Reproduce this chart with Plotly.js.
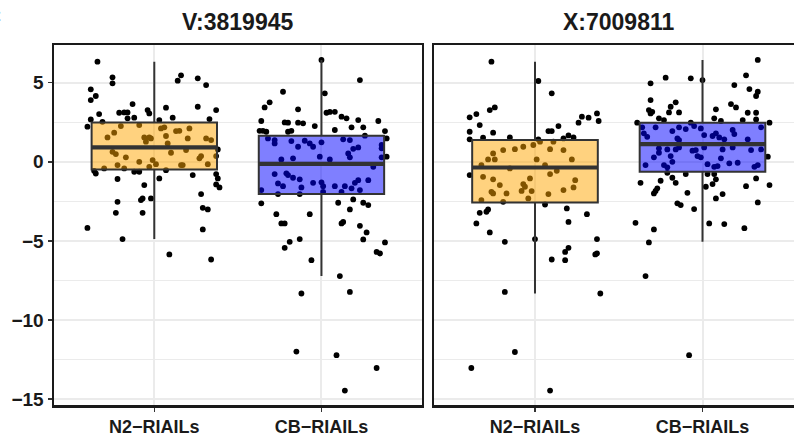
<!DOCTYPE html>
<html><head><meta charset="utf-8">
<script src="https://cdn.plot.ly/plotly-3.0.1.min.js"></script>
<style>html,body{margin:0;padding:0;overflow:hidden;background:#fff}#chart{width:810px;height:441px}</style>
</head><body><div id="chart"></div><script>
const panelTitles = ['V:3819945', 'X:7009811'];
const groupLabels = ['N2\u2212RIAILs', 'CB\u2212RIAILs'];
const groupPos = [1, 2];
const fillColors = ['rgba(255,165,0,0.5)', 'rgba(0,0,255,0.5)'];

// box statistics [panel][group]
const q1 = [[-0.48, -2.04], [-2.57, -0.63]];
const medians = [[0.91, -0.13], [-0.36, 1.12]];
const q3 = [[2.49, 1.65], [1.37, 2.47]];
const lowerWhisker = [[-4.89, -7.23], [-8.33, -5.06]];
const upperWhisker = [[6.33, 6.44], [6.33, 6.44]];

// jittered points: y values and horizontal jitter (category units)
const p1N2y = [6.33,5.34,4.96,5.47,5.13,5.28,4.85,4.58,4.16,3.90,3.65,3.27,3.06,3.42,3.48,3.27,3.02,3.10,3.12,3.12,2.75,2.79,2.68,2.22,2.64,2.79,2.70,2.53,2.26,1.84,1.54,2.32,2.11,2.18,1.94,1.96,2.11,1.54,1.54,1.48,1.63,1.48,1.48,1.37,1.27,1.16,0.63,0.49,0.28,0.00,0.11,0.57,0.74,0.22,0.36,0.36,0.78,-0.42,-0.21,-0.42,-0.32,-0.15,-0.21,-0.21,-0.15,-0.74,-0.57,-1.09,-0.63,-0.63,-1.05,-0.53,-0.84,-0.78,-1.05,-1.43,-1.62,-1.47,-2.32,-2.42,-2.32,-2.04,-2.53,-3.23,-3.23,-2.91,-3.01,-4.18,-4.89,-5.86,-4.28,-6.18];
const p1N2dx = [-0.34,-0.25,-0.25,0.16,0.14,0.26,0.31,-0.38,-0.35,-0.38,-0.13,-0.04,-0.03,0.07,0.26,0.37,-0.33,-0.21,-0.18,-0.16,-0.16,-0.12,-0.38,-0.40,0.03,0.11,0.33,-0.31,-0.20,-0.24,-0.28,-0.09,0.04,0.06,0.13,0.15,0.21,-0.06,-0.03,-0.02,0.07,0.20,0.31,0.34,-0.05,0.08,-0.25,-0.23,-0.17,-0.09,-0.01,0.10,0.19,0.27,0.28,0.37,0.38,-0.30,-0.22,-0.18,-0.03,0.01,0.16,0.17,0.32,-0.35,-0.36,-0.22,-0.12,-0.09,0.03,0.07,0.23,0.37,0.38,0.37,0.39,-0.06,-0.02,-0.08,-0.07,0.28,-0.22,-0.23,-0.07,0.29,0.32,-0.40,-0.19,0.09,0.29,0.34];

const p1CBy = [6.44,5.17,4.43,4.33,3.76,3.44,3.32,3.10,3.15,3.16,2.85,2.75,2.64,2.58,2.58,2.49,2.47,2.47,2.43,2.26,1.96,1.96,1.90,1.90,1.96,2.01,2.18,2.18,1.94,1.65,1.48,1.48,1.16,1.37,1.31,1.33,1.16,0.95,0.95,1.23,1.42,1.37,0.91,0.82,0.53,0.28,1.06,0.85,0.28,0.32,0.15,0.22,0.32,0.15,-0.32,-0.78,-0.84,-0.73,-1.01,-1.11,-1.33,-1.30,-1.54,-1.37,-1.54,-1.62,-1.54,-1.54,-1.33,-1.16,-1.16,-1.68,-1.79,-1.90,-1.79,-2.04,-2.04,-1.90,-2.63,-2.59,-2.38,-2.59,-2.74,-3.01,-3.31,-3.31,-3.90,-3.90,-3.80,-4.05,-3.90,-5.06,-5.44,-4.89,-6.22,-8.33,-12.00,-4.47,-4.91,-5.10,-5.70,-5.80,-7.23,-8.23,-12.23,-13.04,-14.47];
const p1CBdx = [0.00,0.23,-0.23,0.02,-0.31,-0.34,-0.14,0.03,0.05,0.08,0.12,0.15,0.22,0.34,-0.36,-0.22,-0.20,-0.14,-0.11,-0.04,-0.37,-0.35,-0.33,-0.20,-0.18,0.08,0.18,0.25,0.38,0.26,0.39,-0.32,-0.28,-0.28,-0.18,-0.10,-0.07,-0.05,-0.14,0.00,0.13,0.17,0.22,0.19,0.16,0.17,0.36,0.36,0.36,0.39,-0.24,-0.17,-0.01,0.05,0.31,-0.28,-0.20,-0.21,-0.17,-0.13,-0.05,0.00,0.01,-0.26,-0.23,-0.12,0.08,0.14,0.20,0.22,0.28,0.18,0.23,0.12,-0.36,-0.26,-0.13,0.01,-0.36,0.10,0.19,0.25,0.28,0.17,-0.27,-0.07,-0.24,-0.22,0.13,0.23,0.12,-0.19,-0.22,-0.13,-0.06,-0.12,-0.15,0.27,0.25,0.38,0.33,0.35,0.11,0.17,0.09,0.33,0.14];

const p2N2y = [6.33,5.11,4.33,3.44,3.27,3.02,2.81,2.32,1.90,1.42,1.84,2.85,2.79,3.06,2.58,2.47,2.26,1.94,1.94,1.67,1.54,1.48,1.54,1.52,1.42,0.53,0.15,0.15,0.74,0.80,0.95,1.06,1.27,1.27,0.80,0.74,0.15,0.15,-0.21,-0.21,-0.42,-0.95,-1.11,-1.47,-1.41,-1.58,-1.05,-1.85,-1.84,-0.78,-0.57,-1.16,-1.62,-1.79,-2.04,-2.00,-2.00,-1.90,-2.32,-2.53,-2.42,-0.84,-2.70,-2.95,-3.23,-3.16,-3.01,-3.31,-3.80,-3.90,-4.47,-5.06,-4.89,-5.70,-5.44,-6.18,-6.22,-4.89,-5.80,-5.86,-8.23,-8.33,-12.03,-13.04,-14.47];
const p2N2dx = [-0.26,0.02,0.10,-0.24,-0.27,-0.35,-0.39,-0.33,-0.39,-0.39,-0.25,0.28,0.32,0.37,0.38,0.26,0.14,0.08,0.10,0.20,0.23,0.17,-0.15,-0.31,0.02,-0.25,-0.28,-0.24,-0.19,-0.12,-0.07,-0.01,0.03,0.11,0.09,0.17,0.01,0.22,0.06,-0.32,-0.15,-0.31,-0.25,-0.21,-0.07,-0.06,-0.03,-0.02,-0.08,0.09,0.13,0.24,0.23,0.17,0.08,-0.17,-0.25,-0.26,-0.04,-0.19,-0.32,-0.39,0.06,0.19,-0.33,-0.29,-0.28,0.31,0.20,-0.35,-0.27,-0.18,0.00,0.18,0.20,0.10,0.18,0.37,0.37,0.36,-0.18,0.39,-0.12,-0.38,0.09];

const p2CBy = [6.44,5.47,5.32,5.28,5.17,4.96,4.85,4.60,4.43,4.16,3.90,3.76,3.65,3.44,3.48,3.27,3.16,3.06,3.12,3.12,3.32,3.10,3.10,2.75,2.58,2.64,2.68,2.75,2.64,2.47,2.47,2.47,2.18,1.80,1.58,2.18,1.94,2.18,2.07,2.26,2.11,1.69,1.63,1.80,1.54,1.42,2.01,1.75,1.42,2.18,1.48,1.37,0.85,0.78,0.78,0.91,0.70,0.74,0.91,0.78,0.91,0.74,0.78,0.28,0.57,0.36,0.36,0.28,0.22,-0.10,-0.06,-0.21,-0.21,-0.35,0.00,-0.15,-0.32,-0.27,-0.32,-0.21,0.32,-0.70,-0.78,-0.78,-0.78,-1.33,-1.20,-1.01,-1.33,-1.11,-1.41,-1.58,-1.05,-1.54,-1.47,-1.68,-1.84,-2.00,-1.96,-2.04,-2.32,-2.63,-2.74,-2.99,-2.57,-3.86,-3.90,-3.94,-4.20,-4.28,-5.10,-7.23,-12.23];
const p2CBdx = [0.33,0.26,-0.22,-0.07,0.00,-0.31,0.19,0.28,0.33,0.32,-0.31,-0.16,0.17,0.20,-0.19,-0.32,-0.30,-0.31,-0.20,-0.14,0.08,0.27,0.32,0.07,0.11,0.24,0.32,-0.26,-0.23,-0.39,0.40,-0.07,-0.36,-0.35,-0.33,-0.28,-0.18,-0.14,-0.10,-0.05,-0.01,0.01,0.06,0.08,0.10,0.13,0.18,0.19,0.27,0.35,-0.15,-0.14,-0.26,-0.21,-0.16,-0.14,-0.06,-0.04,0.01,0.12,0.18,0.29,0.35,-0.29,-0.26,-0.19,-0.03,-0.01,0.11,0.16,0.21,-0.34,-0.23,-0.21,-0.18,0.03,0.07,0.09,0.31,0.33,0.39,-0.21,-0.10,0.03,0.07,-0.37,-0.25,-0.18,-0.16,0.08,0.06,0.02,0.32,0.26,0.40,-0.27,-0.28,-0.29,-0.09,0.12,0.08,-0.15,-0.13,-0.05,0.33,-0.40,0.04,0.13,0.25,-0.29,-0.32,-0.34,-0.08];

const pointsY = [[p1N2y, p1CBy], [p2N2y, p2CBy]];
const pointsDx = [[p1N2dx, p1CBdx], [p2N2dx, p2CBdx]];

const BOXW = 0.75;
const XR = [0.4, 2.6];
const YR = [-15.38, 7.385];
const FONT = 'Liberation Sans, Arial, Helvetica, sans-serif';
const axAxes = [['x', 'y', 'x3', 'y3'], ['x2', 'y2', 'x4', 'y4']];

const traces = [];
// points on base subplots (drawn underneath the boxes)
for (let p = 0; p < 2; p++) {
  for (let g = 0; g < 2; g++) {
    traces.push({
      type: 'scatter', mode: 'markers',
      x: pointsDx[p][g].map(d => groupPos[g] + d),
      y: pointsY[p][g],
      xaxis: axAxes[p][0], yaxis: axAxes[p][1],
      marker: {color: '#000000', size: 5.8},
      hoverinfo: 'skip', showlegend: false
    });
  }
}
// boxes on overlay subplots (drawn above the points)
for (let p = 0; p < 2; p++) {
  for (let g = 0; g < 2; g++) {
    traces.push({
      type: 'box',
      x: [groupPos[g]],
      q1: [q1[p][g]], median: [medians[p][g]], q3: [q3[p][g]],
      lowerfence: [lowerWhisker[p][g]], upperfence: [upperWhisker[p][g]],
      boxpoints: false, width: BOXW, whiskerwidth: 0,
      fillcolor: fillColors[g],
      line: {color: '#333333', width: 2},
      xaxis: axAxes[p][2], yaxis: axAxes[p][3],
      hoverinfo: 'skip', showlegend: false
    });
    traces.push({
      type: 'scatter', mode: 'lines',
      x: [groupPos[g] - BOXW / 2, groupPos[g] + BOXW / 2],
      y: [medians[p][g], medians[p][g]],
      xaxis: axAxes[p][2], yaxis: axAxes[p][3],
      line: {color: '#333333', width: 4.2},
      hoverinfo: 'skip', showlegend: false
    });
  }
}

const tickFont = {family: FONT, size: 18, color: '#1a1a1a', weight: 'bold'};
function xAxis(domain, anchor) {
  return {
    domain: domain, anchor: anchor, range: XR, tickmode: 'array', tickvals: groupPos, ticktext: groupLabels,
    showgrid: true, gridcolor: '#EBEBEB', gridwidth: 2, zeroline: false,
    ticks: 'outside', ticklen: 4, tickwidth: 1.5, tickcolor: '#333333',
    showline: true, mirror: true, linecolor: '#1a1a1a', linewidth: 2.5,
    tickfont: tickFont, fixedrange: true
  };
}
function yAxis(anchor, labels) {
  return {
    anchor: anchor, domain: [0, 1], range: YR, tickmode: 'array', tickvals: [-15, -10, -5, 0, 5],
    showticklabels: labels, ticks: labels ? 'outside' : '', ticklen: 4, tickwidth: 1.5, tickcolor: '#333333',
    showgrid: true, gridcolor: '#EBEBEB', gridwidth: 2, zeroline: false,
    minor: {tickmode: 'array', tickvals: [-12.5, -7.5, -2.5, 2.5], showgrid: true, gridcolor: '#EBEBEB', gridwidth: 1.2, ticks: ''},
    showline: true, mirror: true, linecolor: '#1a1a1a', linewidth: 2.5,
    tickfont: {family: FONT, size: 19, color: '#1a1a1a', weight: 'bold'}, fixedrange: true
  };
}
const hidden = (over, r, anchor) => ({overlaying: over, range: r, visible: false, anchor: anchor, fixedrange: true});

const D1 = [0, 0.491], D2 = [0.508, 1];
const layout = {
  width: 810, height: 441,
  margin: {l: 54, r: 7, t: 45, b: 36},
  paper_bgcolor: '#ffffff', plot_bgcolor: '#ffffff',
  showlegend: false,
  xaxis: xAxis(D1, 'y'), yaxis: yAxis('x', true),
  xaxis2: xAxis(D2, 'y2'), yaxis2: yAxis('x2', false),
  xaxis3: hidden('x', XR, 'y3'), yaxis3: hidden('y', YR, 'x3'),
  xaxis4: hidden('x2', XR, 'y4'), yaxis4: hidden('y2', YR, 'x4'),
  annotations: [
    {text: panelTitles[0], xref: 'paper', yref: 'paper', x: (D1[0] + D1[1]) / 2, y: 1, xanchor: 'center', yanchor: 'middle', yshift: 23, showarrow: false,
     font: {family: FONT, size: 23, color: '#1a1a1a', weight: 'bold'}},
    {text: panelTitles[1], xref: 'paper', yref: 'paper', x: (D2[0] + D2[1]) / 2, y: 1, xanchor: 'center', yanchor: 'middle', yshift: 23, showarrow: false,
     font: {family: FONT, size: 23, color: '#1a1a1a', weight: 'bold'}},
    {text: 'C', xref: 'paper', yref: 'paper', x: -0.081, y: 1, xanchor: 'center', yanchor: 'middle', yshift: 29, showarrow: false,
     font: {family: FONT, size: 22, color: '#000000', weight: 'bold'}}
  ]
};
Plotly.newPlot('chart', traces, layout, {displayModeBar: false, staticPlot: true});
</script></body></html>
